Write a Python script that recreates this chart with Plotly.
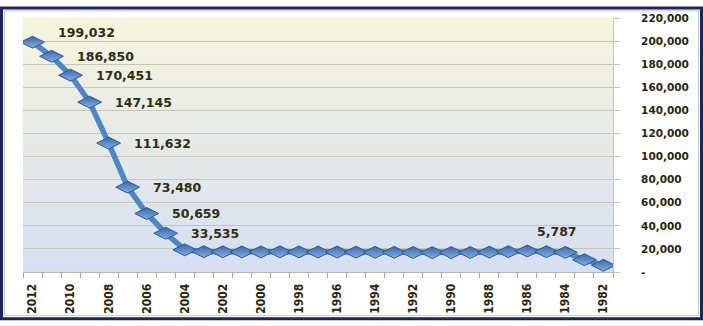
import plotly.graph_objects as go

years = list(range(2012, 1981, -1))
values = [199032, 186850, 170451, 147145, 111632, 73480, 50659, 33535,
          19200, 17600, 17500, 17400, 17400, 17500, 17400, 17300, 17300,
          17200, 17100, 17000, 16900, 16800, 16800, 16900, 17200, 17600,
          18200, 17600, 17000, 10600, 5787]
labeled_years = [2012, 2011, 2010, 2009, 2008, 2007, 2006, 2005, 1982]
x_tick_years = list(range(2012, 1981, -2))
x_tick_text = [str(y) for y in x_tick_years]
y_tick_vals = list(range(0, 220001, 20000))
y_tick_text = ["-", "20,000", "40,000", "60,000", "80,000", "100,000", "120,000",
               "140,000", "160,000", "180,000", "200,000", "220,000"]

W, H = 703, 326
ML, MR, MT, MB = 23, 90, 12, 50
PW, PH = W - ML - MR, H - MT - MB

fig = go.Figure()
fig.add_trace(go.Scatter(
    x=years, y=values, mode="lines+markers",
    line=dict(color="#4f86c6", width=5.5),
    marker=dict(symbol="diamond-wide", size=17, color="#3569b0",
                gradient=dict(type="vertical", color="#86aee0"),
                line=dict(color="#2c5a96", width=1)),
    hoverinfo="skip", showlegend=False,
))

label_color = "#2e2e14"
annotations = []
for yr in labeled_years:
    v = values[years.index(yr)]
    txt = f"{v:,}"
    if yr == 1982:
        annotations.append(dict(x=yr, y=v, text=txt, showarrow=False, xanchor="right",
                                yanchor="middle", xshift=-24, yshift=34,
                                font=dict(family="DejaVu Sans", size=12.5, color=label_color, weight="bold")))
    else:
        annotations.append(dict(x=yr, y=v, text=txt, showarrow=False, xanchor="left",
                                yanchor="middle", xshift=23, yshift=10 if yr == 2012 else 0,
                                font=dict(family="DejaVu Sans", size=12.5, color=label_color, weight="bold")))

# gradient background bands
def lerp(c1, c2, t):
    return tuple(round(a + (b - a) * t) for a, b in zip(c1, c2))

bottom_c = (0xd6, 0xdf, 0xf2)
top_c = (0xf5, 0xf5, 0xdc)
shapes = []
N = 60
for i in range(N):
    c = lerp(bottom_c, top_c, (i + 0.5) / N)
    shapes.append(dict(type="rect", xref="x domain", yref="y domain",
                       x0=0, x1=1, y0=i / N, y1=(i + 1) / N + 0.002,
                       fillcolor="rgb(%d,%d,%d)" % c, line=dict(width=0), layer="below"))

# outer frame
def px_to_paper_x(px):
    return (px - ML) / PW

def px_to_paper_y(py):
    return (H - MB - py) / PH

shapes.append(dict(type="rect", xref="paper", yref="paper",
                   x0=px_to_paper_x(1.5), x1=px_to_paper_x(W - 1.5),
                   y0=px_to_paper_y(H - 1.5), y1=px_to_paper_y(1.5),
                   line=dict(color="#1e2659", width=3), layer="above"))
shapes.append(dict(type="rect", xref="paper", yref="paper",
                   x0=px_to_paper_x(4.5), x1=px_to_paper_x(W - 4.5),
                   y0=px_to_paper_y(H - 4.5), y1=px_to_paper_y(4.5),
                   line=dict(color="#c4c7d4", width=1), layer="above"))

fig.update_layout(
    width=W, height=H,
    margin=dict(l=ML, r=MR, t=MT, b=MB),
    paper_bgcolor="white", plot_bgcolor="white",
    shapes=shapes, annotations=annotations,
    xaxis=dict(
        range=[2012.5, 1981.5], tickmode="array", tickvals=x_tick_years, ticktext=x_tick_text,
        tickangle=-90, ticks="", showgrid=False, zeroline=False,
        showline=True, linecolor="#b8b8a8", linewidth=1,
        tickfont=dict(family="Liberation Sans Narrow, DejaVu Sans Condensed", size=12,
                      color="#26260e", weight="bold"),
        minor=dict(ticks="outside", ticklen=5, tickcolor="#a8a898", dtick=1, tick0=0.5, showgrid=False),
        ticklabelstandoff=6,
    ),
    yaxis=dict(
        side="right", range=[0, 220000], tickmode="array", tickvals=y_tick_vals, ticktext=y_tick_text,
        showgrid=True, gridcolor="#c6c6b4", gridwidth=1, zeroline=False,
        showline=True, linecolor="#c6c6b4", linewidth=1,
        ticks="outside", ticklen=6, tickcolor="#c6c6b4",
        tickfont=dict(family="DejaVu Sans", size=10.5, color="#26260e", weight="bold"),
        ticklabelstandoff=19,
    ),
)

fig.write_html("out.html")
